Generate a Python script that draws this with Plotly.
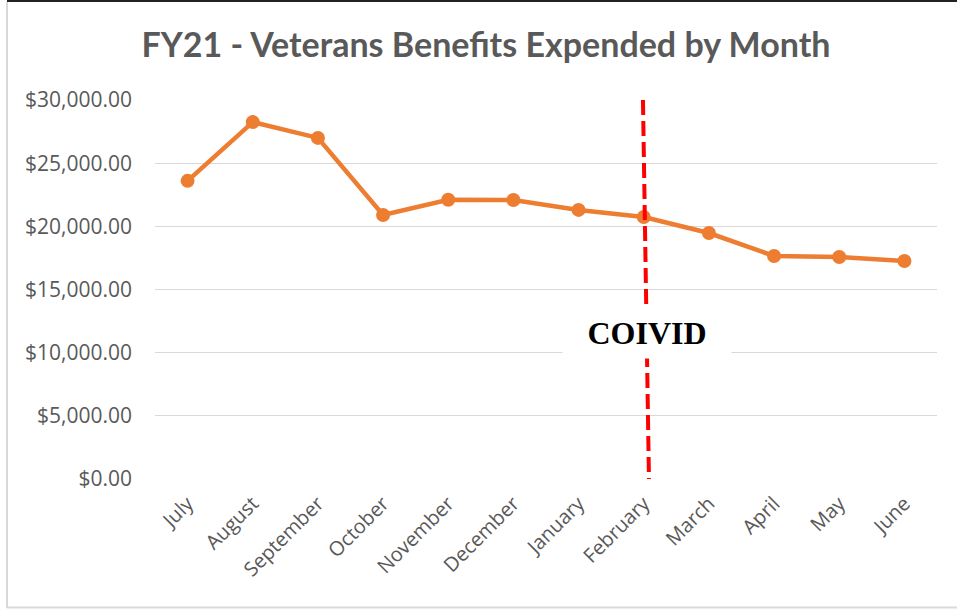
import plotly.graph_objects as go

months = ["July", "August", "September", "October", "November", "December",
          "January", "February", "March", "April", "May", "June"]
expended = [23600, 28250, 27000, 20900, 22100, 22080, 21300, 20740, 19470, 17650, 17570, 17260]
y_tick_vals = [0, 5000, 10000, 15000, 20000, 25000, 30000]
y_tick_text = ["$0.00", "$5,000.00", "$10,000.00", "$15,000.00", "$20,000.00", "$25,000.00", "$30,000.00"]
title_text = "FY21 - Veterans Benefits Expended by Month"
event_label = "COIVID"
event_month = "February"

x_idx = list(range(len(months)))
ev = months.index(event_month)

fig = go.Figure()
fig.add_trace(go.Scatter(
    x=x_idx, y=expended, mode="lines+markers",
    line=dict(color="#ED7D31", width=4.5),
    marker=dict(color="#ED7D31", size=14),
    hoverinfo="skip", showlegend=False,
))

L, R, T, B = 155, 20, 100, 133
W, H = 957, 612
pw, ph = W - L - R, H - T - B

def px(xp):
    return (xp - L) / pw

def py(yp):
    return (H - B - yp) / ph

shapes = [
    # red dashed event line
    dict(type="line", xref="x", yref="y", x0=ev - 0.012, y0=30000, x1=ev + 0.08, y1=0,
         line=dict(color="#FF0000", width=4, dash="15px,6px"), layer="above"),
    # chart border
    dict(type="line", xref="paper", yref="paper", x0=px(7), x1=px(7), y0=py(2), y1=py(608),
         line=dict(color="#D9D9D9", width=2)),
    dict(type="line", xref="paper", yref="paper", x0=px(7), x1=px(960), y0=py(607.5), y1=py(607.5),
         line=dict(color="#D9D9D9", width=2)),
    dict(type="rect", xref="paper", yref="paper", x0=px(7), x1=px(960), y0=py(0), y1=py(2),
         line=dict(width=0), fillcolor="#222222"),
]

fig.update_layout(
    width=W, height=H,
    margin=dict(l=L, r=R, t=T, b=B),
    paper_bgcolor="white", plot_bgcolor="white",
    title=dict(text=title_text, x=486 / W, xanchor="center", y=(H - 45) / H, yanchor="middle",
               yref="container", xref="container",
               font=dict(family="Lato", size=34, color="#595959", weight="bold")),
    xaxis=dict(range=[-0.5, len(months) - 0.5], tickmode="array", tickvals=x_idx, ticktext=months,
               tickangle=-45, showgrid=False, zeroline=False, showline=False, ticks="",
               ticklabelstandoff=8,
               tickfont=dict(family="Open Sans", size=20, color="#595959"), fixedrange=True),
    yaxis=dict(range=[0, 30000], tickmode="array", tickvals=y_tick_vals, ticktext=y_tick_text,
               showgrid=True, gridcolor="#D9D9D9", gridwidth=1.3, zeroline=False, showline=False,
               ticks="", ticklabelstandoff=22,
               tickfont=dict(family="Open Sans", size=21, color="#595959"), fixedrange=True),
    shapes=shapes,
    annotations=[dict(
        xref="x", yref="y", x=ev + 0.05, y=11600, text="<b>" + event_label + "</b>",
        showarrow=False, bgcolor="white", width=168, height=51, borderpad=0,
        font=dict(family="Liberation Serif", size=32, color="black"),
        xanchor="center", yanchor="middle",
    )],
)

fig.write_html("out.html", config={"displayModeBar": False},
               post_script="document.body.style.margin='0';document.body.style.overflow='hidden';")
